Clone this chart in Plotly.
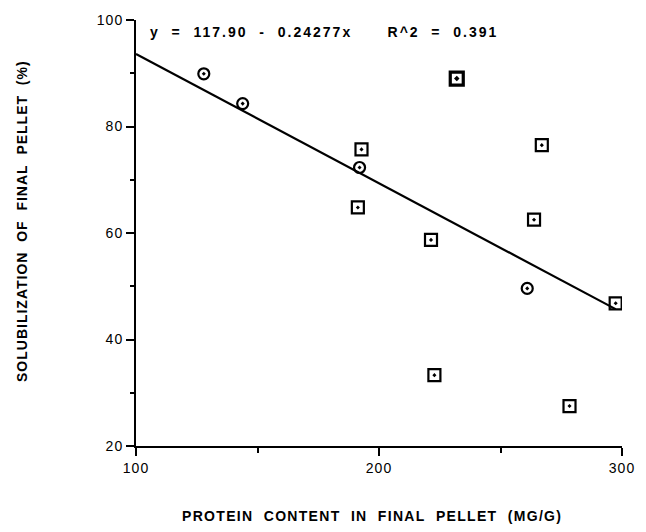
import plotly.graph_objects as go

# Data
circle_x = [127.9, 143.9, 192.0, 261.0]
circle_y = [89.9, 84.3, 72.3, 49.6]
square_x = [192.8, 191.3, 221.4, 222.8, 263.8, 267.0, 278.4, 297.4]
square_y = [75.7, 64.8, 58.7, 33.3, 62.5, 76.5, 27.5, 46.8]
bold_square_x = [232.0]
bold_square_y = [89.0]

intercept = 117.90
slope = -0.24277
r2 = 0.391
line_x = [100, 297.4]
line_y = [intercept + slope * v for v in line_x]

x_ticks = [100, 200, 300]
y_ticks = [20, 40, 60, 80, 100]

FONT = "Liberation Sans, Arial, Helvetica, sans-serif"
NB = "\u00a0"

fig = go.Figure()
fig.add_trace(go.Scatter(x=line_x, y=line_y, mode="lines",
                         line=dict(color="black", width=2.2), showlegend=False,
                         hoverinfo="skip"))
fig.add_trace(go.Scatter(x=circle_x, y=circle_y, mode="markers",
                         marker=dict(symbol="circle-open-dot", size=11, color="black",
                                     line=dict(width=2.2, color="black")),
                         showlegend=False))
fig.add_trace(go.Scatter(x=square_x, y=square_y, mode="markers",
                         marker=dict(symbol="square-open-dot", size=12, color="black",
                                     line=dict(width=2.2, color="black")),
                         showlegend=False))
fig.add_trace(go.Scatter(x=bold_square_x, y=bold_square_y, mode="markers",
                         marker=dict(symbol="square-open-dot", size=13, color="black",
                                     line=dict(width=3.2, color="black")),
                         showlegend=False))

eq_text = (f"y{NB*2}={NB*2}{intercept:.2f}{NB*2}-{NB*2}{abs(slope):.5f}x"
           f"{NB*6}R^2{NB*2}={NB*2}{r2:.3f}")

fig.add_annotation(text=f"<b>{eq_text}</b>", xref="paper", yref="paper",
                   x=0.024, y=1, xanchor="left", yanchor="middle", yshift=-12,
                   xshift=44,
                   showarrow=False, font=dict(family=FONT, size=14, color="black"))
fig.add_annotation(text="<b>SOLUBILIZATION" + NB*2 + "OF" + NB*2 + "FINAL" + NB*2 +
                   "PELLET" + NB*2 + "(%)</b>",
                   xref="paper", yref="paper", x=0, y=0.5, xanchor="center",
                   yanchor="middle", xshift=-114, yshift=12, textangle=-90,
                   showarrow=False, font=dict(family=FONT, size=14, color="black"))
fig.add_annotation(text="<b>PROTEIN" + NB*2 + "CONTENT" + NB*2 + "IN" + NB*2 + "FINAL" +
                   NB*2 + "PELLET" + NB*2 + "(MG/G)</b>",
                   xref="paper", yref="paper", x=0.485, y=0, xanchor="center",
                   yanchor="middle", yshift=-70,
                   showarrow=False, font=dict(family=FONT, size=14, color="black"))

fig.update_layout(
    width=646, height=532,
    margin=dict(l=136, r=17, t=16, b=86),
    paper_bgcolor="white", plot_bgcolor="white",
    font=dict(family=FONT, size=14, color="black"),
    xaxis=dict(range=[100, 300], tickvals=x_ticks, ticks="outside", ticklen=8,
               tickwidth=1.5, tickcolor="black", showline=True, linecolor="black",
               linewidth=2, showgrid=False, zeroline=False, mirror=False,
               ticklabeloverflow="allow",
               minor=dict(dtick=50, tick0=100, ticks="outside", ticklen=5,
                          tickwidth=1.5, tickcolor="black", showgrid=False)),
    yaxis=dict(range=[20, 100], tickvals=y_ticks, ticks="outside", ticklen=8,
               tickwidth=1.5, tickcolor="black", showline=True, linecolor="black",
               linewidth=2, showgrid=False, zeroline=False, mirror=False,
               minor=dict(dtick=10, tick0=20, ticks="outside", ticklen=4,
                          tickwidth=1.5, tickcolor="black", showgrid=False)),
)

# remove the page margin and widen letter spacing, as in the typed original
post = """
document.body.style.margin = '0';
document.body.style.overflow = 'hidden';
var gd = document.getElementsByClassName('plotly-graph-div')[0];
var anns = gd.querySelectorAll('.annotation-text');
var sp = ['2px', '1px', '1.3px'];
anns.forEach(function(t, i){ t.style.letterSpacing = sp[i] || '1px'; });
gd.querySelectorAll('.xtick text, .ytick text').forEach(function(t){ t.style.letterSpacing = '1px'; });
"""

fig.write_html("out.html", post_script=post, config={"displayModeBar": False})
